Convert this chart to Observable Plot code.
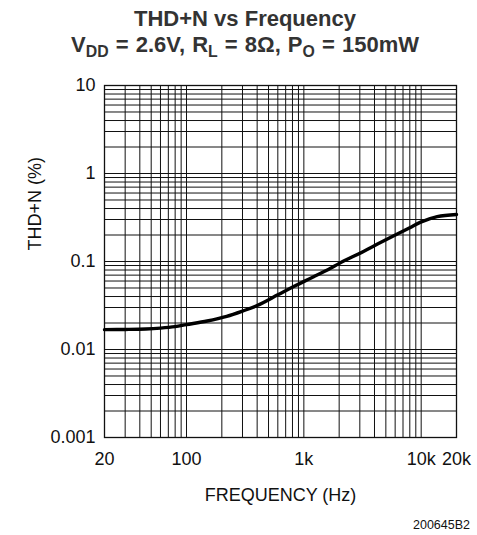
<!DOCTYPE html>
<html>
<head>
<meta charset="utf-8">
<script src="https://cdn.jsdelivr.net/npm/d3@7"></script>
<script src="https://cdn.jsdelivr.net/npm/@observablehq/plot@0.6"></script>
<style>
  body { margin: 0; background: #fff; font-family: "Liberation Sans", Arial, Helvetica, sans-serif; }
  #wrap { width: 477px; position: relative; }
  #title { position: relative; height: 62px; color: #333; font-weight: bold; font-size: 22px; }
  #title div { position: absolute; left: 13px; right: 0; text-align: center; line-height: 24px; white-space: nowrap; }
  #t1 { top: 7px; }
  #t2 { top: 33px; word-spacing: 1px; }
  #title sub { font-size: 0.72em; vertical-align: -0.3em; line-height: 0; }
  #chart svg { display: block; }
  #caption { height: 18px; line-height: 16px; text-align: right; padding-right: 7px; font-size: 12.5px; color: #111; }
</style>
</head>
<body>
<div id="wrap">
  <div id="title">
    <div id="t1">THD+N vs Frequency</div>
    <div id="t2">V<sub>DD</sub> = 2.6V, R<sub>L</sub> = 8Ω, P<sub>O</sub> = 150mW</div>
  </div>
  <div id="chart"></div>
  <div id="caption">200645B2</div>
</div>
<script>
// Measured curve (frequency in Hz, THD+N in %)
const freq = [20, 30, 45, 60, 80, 100, 150, 220, 300, 400, 600, 820, 1200, 1690, 2000, 3250, 4500, 6260, 8000, 9900, 13700, 20000];
const thdn = [0.0168, 0.0169, 0.0171, 0.0175, 0.0182, 0.0192, 0.0211, 0.0238, 0.0273, 0.0316, 0.0418, 0.052, 0.0667, 0.084, 0.095, 0.131, 0.164, 0.205, 0.242, 0.28, 0.323, 0.342];

// Axis ticks and labels
const xTicks = [20, 100, 1000, 10000, 20000];
const xTickLabels = ["20", "100", "1k", "10k", "20k"];
const yTicks = [0.001, 0.01, 0.1, 1, 10];
const yTickLabels = ["0.001", "0.01", "0.1", "1", "10"];

// log grid lines (1..9 per decade)
const xGrid = [];
for (const dec of [10, 100, 1000, 10000]) for (let m = 1; m <= 9; m++) { const v = m * dec; if (v >= 20 && v <= 20000) xGrid.push(v); }
xGrid.push(20000);
const yGrid = [];
for (const dec of [0.001, 0.01, 0.1, 1]) for (let m = 1; m <= 9; m++) yGrid.push(+(m * dec).toPrecision(3));
yGrid.push(10);

const data = freq.map((f, i) => ({f, v: thdn[i]}));
const xLab = xTicks.map((d, i) => ({d, t: xTickLabels[i]}));
const yLab = yTicks.map((d, i) => ({d, t: yTickLabels[i]}));

const chart = Plot.plot({
  width: 477,
  height: 455,
  marginLeft: 104,
  marginRight: 21,
  marginTop: 23,
  marginBottom: 80,
  style: {fontSize: "18px", fontFamily: "'Liberation Sans', Arial, Helvetica, sans-serif", color: "#111", background: "#fff"},
  x: {type: "log", domain: [20, 20000], axis: null},
  y: {type: "log", domain: [0.001, 10], axis: null},
  marks: [
    Plot.ruleX(xGrid, {stroke: "#111", strokeWidth: 1}),
    Plot.ruleY(yGrid, {stroke: "#111", strokeWidth: 1}),
    Plot.frame({stroke: "#111", strokeWidth: 1.3}),
    Plot.line(data, {x: "f", y: "v", stroke: "#000", strokeWidth: 3.4, curve: "catmull-rom"}),
    Plot.text(xLab, {x: "d", text: "t", frameAnchor: "bottom", dy: 27, fontSize: 18, fill: "#111"}),
    Plot.text(yLab, {y: "d", text: "t", frameAnchor: "left", dx: -9, textAnchor: "end", fontSize: 18, fill: "#111"}),
    Plot.text(["THD+N (%)"], {frameAnchor: "left", rotate: -90, dx: -69, dy: -11, fontSize: 18, fill: "#111"}),
    Plot.text(["FREQUENCY (Hz)"], {frameAnchor: "bottom", dy: 63, fontSize: 18, fill: "#111"})
  ]
});
document.getElementById("chart").appendChild(chart);
</script>
</body>
</html>
